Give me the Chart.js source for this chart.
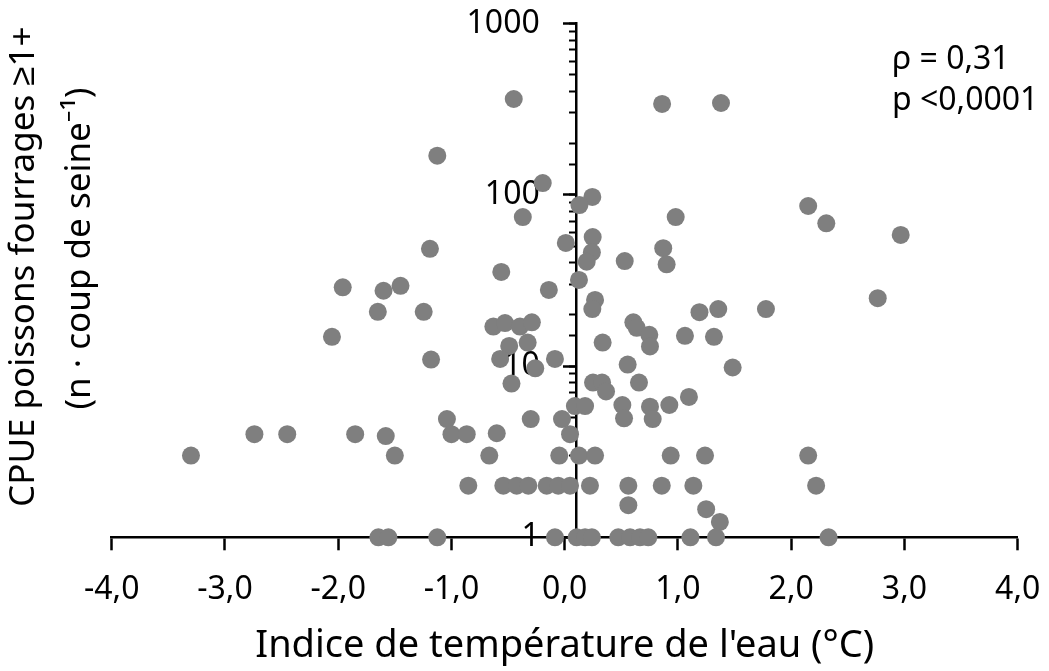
<!DOCTYPE html>
<html>
<head>
<meta charset="utf-8">
<script src="https://cdn.jsdelivr.net/npm/chart.js@4.4.1/dist/chart.umd.min.js"></script>
<style>
html, body { margin: 0; padding: 0; background: #ffffff; }
#wrap { width: 1049px; height: 671px; position: relative; }
</style>
</head>
<body>
<div id="wrap"><canvas id="c"></canvas></div>
<script>
// ---- Data ----
const tempIndex = [
  -3.30, -2.74, -2.45, -1.85, -1.58, -1.50, -1.04, -1.00, -0.865, -1.645,
  -1.557, -1.125, -2.055, -1.96, -1.65, -1.60, -1.45, -1.245, -1.19, -1.18,
  -1.125, -0.45, 0.86, 1.38, -0.194, 0.244, 0.13, -0.37, 0.98, 0.01,
  0.247, 0.24, 0.194, 0.87, 0.90, 0.53, -0.56, 0.126, -0.14, 0.268,
  0.244, 1.19, -0.63, -0.527, -0.395, -0.29, 0.606, 0.636, 0.747, 0.753,
  1.062, -0.49, -0.327, 0.335, -0.57, -0.26, -0.086, -0.47, 0.556, 0.656,
  0.25, 0.33, 0.365, 0.09, 0.18, 0.509, 0.524, 0.753, 0.777, 0.924,
  1.097, -0.30, -0.024, 0.047, -0.60, -0.666, -0.048, 0.126, 0.268, 0.936,
  1.239, 2.15, 2.22, 1.249, 1.37, 1.11, 1.336, 2.33, 1.483, 1.318,
  1.356, 1.777, 2.15, 2.31, 2.967, 2.764,
  -0.851, -0.542, -0.424, -0.321, -0.159, -0.057, 0.047, 0.223, 0.562, 0.857, 1.136,
  0.562,
  -0.086, 0.106, 0.18, 0.24, 0.473, 0.577, 0.665, 0.738
];
const cpue = [
  3, 4, 4, 4, 3.9, 3, 4.9, 4, 4, 1,
  1, 1, 14.8, 28.8, 20.7, 27.5, 29.4, 20.7, 48.3, 10.9,
  169, 362, 339, 343, 117, 97, 87, 74, 74, 52.3,
  56.6, 46.1, 40.6, 48.7, 39.2, 41, 35.4, 31.8, 27.8, 24.3,
  21.5, 20.6, 17, 17.8, 17, 18, 18, 16.7, 15.2, 13,
  15, 13.1, 13.7, 13.7, 11, 9.7, 11, 7.9, 10.2, 8,
  8, 8, 7.1, 5.84, 5.84, 5.92, 4.95, 5.79, 4.9, 5.92,
  6.6, 4.9, 4.9, 4, 4.05, 3, 3, 3, 3, 3,
  3, 3, 2, 1.46, 1.23, 1, 1, 1, 9.8, 14.8,
  21.5, 21.5, 85.9, 68.1, 58.2, 24.9,
  2, 2, 2, 2, 2, 2, 2, 2, 2, 2, 2,
  1.54,
  1, 1, 1, 1, 1, 1, 1, 1
];
const yMajorTicks = [1, 10, 100, 1000];
const xTitle = "Indice de température de l'eau (°C)";
const yTitle = ["   CPUE poissons fourrages ≥1+", "       (n · coup de seine⁻¹)"];
const statsText = ["ρ = 0,31", "p <0,0001"];

const FAMILY = "'Noto Sans', sans-serif";
const points = tempIndex.map((x, i) => ({ x: x, y: cpue[i] }));

const statsPlugin = {
  id: 'statsText',
  afterDatasetsDraw(chart) {
    const ctx = chart.ctx;
    ctx.save();
    ctx.font = "32px " + FAMILY;
    ctx.fillStyle = '#000';
    ctx.textBaseline = 'middle';
    ctx.textAlign = 'left';
    statsText.forEach((t, i) => ctx.fillText(t, 892, 60 + i * 41));
    ctx.restore();
  }
};

const noSidePadding = s => { s.paddingLeft = 0; s.paddingRight = 0; s.paddingTop = 0; s.paddingBottom = 0; };

new Chart(document.getElementById('c'), {
  type: 'scatter',
  data: {
    datasets: [{
      data: points,
      xAxisID: 'x',
      yAxisID: 'y',
      backgroundColor: '#7f7f7f',
      borderWidth: 0,
      pointRadius: 9,
      pointHoverRadius: 9,
      clip: false
    }]
  },
  options: {
    responsive: true,
    maintainAspectRatio: false,
    animation: false,
    events: [],
    layout: { padding: { top: 23.4, right: 31.3, bottom: 0, left: 0 } },
    plugins: { legend: { display: false }, tooltip: { enabled: false } },
    scales: {
      x: {
        type: 'linear', position: 'bottom', min: -4, max: 4,
        ticks: {
          stepSize: 1, color: '#000', padding: 20,
          font: { family: FAMILY, size: 32 },
          callback: v => v.toFixed(1).replace('.', ',')
        },
        grid: { drawOnChartArea: false, drawTicks: true, tickLength: 13, tickWidth: 2.5, tickColor: '#000' },
        border: { display: true, color: '#000', width: 2.5 },
        title: { display: true, text: xTitle, color: '#000', font: { family: FAMILY, size: 38 }, padding: { top: 0, bottom: 2 } },
        afterFit: s => { noSidePadding(s); s.height = 133.7; }
      },
      yTitleAxis: {
        axis: 'y', type: 'logarithmic', position: 'left', min: 1, max: 1000,
        ticks: { display: false },
        grid: { display: false, drawTicks: false },
        border: { display: false },
        title: { display: true, text: yTitle, color: '#000', font: { family: FAMILY, size: 35, lineHeight: 1.6 }, padding: { top: -4, bottom: 0 } },
        afterFit: s => { noSidePadding(s); s.width = 111.7; }
      },
      y: {
        axis: 'y', type: 'logarithmic', position: { x: 0.1 }, min: 1, max: 1000,
        afterBuildTicks: s => { s.ticks = yMajorTicks.map(v => ({ value: v })); },
        ticks: { display: false },
        grid: { drawOnChartArea: false, tickLength: 12, tickWidth: 2.5, tickColor: '#000' },
        border: { display: true, color: '#000', width: 2.5 },
        afterFit: noSidePadding
      },
      yMinor: {
        axis: 'y', type: 'logarithmic', position: { x: 0.1 }, min: 1, max: 1000,
        ticks: { display: false },
        grid: { drawOnChartArea: false, tickLength: 7, tickWidth: 2, tickColor: '#000' },
        border: { display: false },
        afterFit: noSidePadding
      },
      yLabels: {
        axis: 'y', type: 'logarithmic', position: { x: -0.22 }, min: 1, max: 1000,
        afterBuildTicks: s => { s.ticks = yMajorTicks.map(v => ({ value: v })); },
        ticks: { color: '#000', padding: 0, font: { family: FAMILY, size: 32 }, callback: v => String(v) },
        grid: { display: false, drawTicks: false },
        border: { display: false },
        afterFit: noSidePadding
      }
    }
  },
  plugins: [statsPlugin]
});
</script>
</body>
</html>
